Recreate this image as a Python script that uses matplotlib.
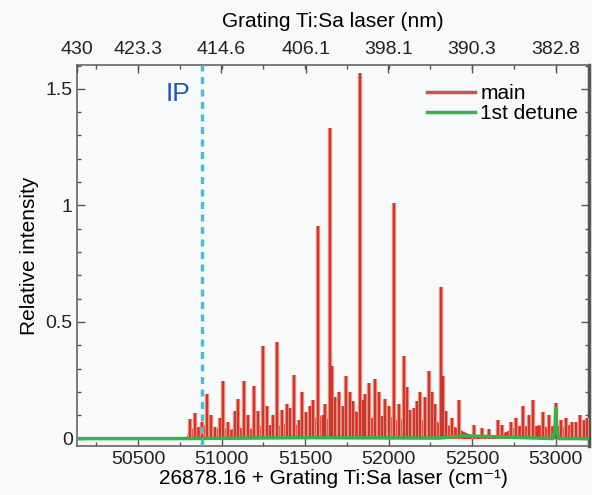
import numpy as np
import matplotlib
matplotlib.use('Agg')
import matplotlib.pyplot as plt
import matplotlib.patheffects as pe
from matplotlib.lines import Line2D
from matplotlib.ticker import MultipleLocator

plt.rcParams['font.family'] = ['Liberation Sans', 'DejaVu Sans']

# peaks of the main spectrum (wavenumber, relative intensity)
peak_x = [50811, 50841, 50880, 50911, 50935, 50961, 50990, 51007, 51040, 51080,
          51100, 51134, 51160, 51194, 51220, 51246, 51270, 51290, 51310, 51334,
          51360, 51390, 51410, 51436, 51466, 51480, 51506, 51530, 51550, 51576,
          51605, 51620, 51648, 51659, 51680, 51705, 51725, 51745, 51770, 51789,
          51826, 51845, 51860, 51885, 51919, 51940, 51959, 51980, 52000, 52032,
          52060, 52093, 52110, 52129, 52149, 52170, 52189, 52215, 52243, 52258,
          52280, 52313, 52328, 52345, 52378, 52422, 52512, 52558, 52600, 52652,
          52680, 52732, 52760, 52804, 52840, 52867, 52923, 52960, 53001, 53035,
          53060, 53097, 53120, 53147, 53170, 53187]
peak_h = [0.084, 0.11, 0.07, 0.19, 0.10, 0.05, 0.09, 0.248, 0.07, 0.12,
          0.17, 0.245, 0.10, 0.224, 0.12, 0.396, 0.14, 0.06, 0.10, 0.413,
          0.124, 0.15, 0.13, 0.271, 0.08, 0.20, 0.112, 0.14, 0.167, 0.91,
          0.10, 0.15, 1.33, 0.31, 0.18, 0.20, 0.14, 0.267, 0.20, 0.16,
          1.57, 0.167, 0.19, 0.238, 0.256, 0.20, 0.095, 0.17, 0.14, 1.01,
          0.15, 0.353, 0.22, 0.124, 0.13, 0.16, 0.198, 0.18, 0.29, 0.20,
          0.15, 0.65, 0.267, 0.12, 0.088, 0.164, 0.059, 0.045, 0.04, 0.078,
          0.06, 0.073, 0.09, 0.138, 0.10, 0.164, 0.116, 0.10, 0.152, 0.08,
          0.09, 0.073, 0.07, 0.10, 0.08, 0.09]

# dense background of the main spectrum
base_x = [50134, 50300, 50500, 50700, 50790, 50800, 50850, 50900, 50950, 51000,
          51050, 51100, 51150, 51200, 51250, 51300, 51350, 51400, 51450, 51500,
          51550, 51600, 51650, 51700, 51750, 51800, 51850, 51900, 51950, 52000,
          52050, 52100, 52150, 52200, 52250, 52300, 52350, 52400, 52450, 52500,
          52550, 52600, 52650, 52700, 52750, 52800, 52850, 52900, 52950, 53000,
          53050, 53100, 53150, 53200]
base_y = [0.004, 0.006, 0.005, 0.006, 0.008, 0.04, 0.05, 0.06, 0.04, 0.05,
          0.04, 0.05, 0.04, 0.05, 0.06, 0.05, 0.06, 0.07, 0.06, 0.07,
          0.09, 0.10, 0.08, 0.11, 0.09, 0.12, 0.10, 0.09, 0.08, 0.10,
          0.08, 0.09, 0.10, 0.08, 0.09, 0.07, 0.06, 0.05, 0.03, 0.015,
          0.012, 0.01, 0.02, 0.03, 0.05, 0.06, 0.05, 0.06, 0.05, 0.06,
          0.05, 0.07, 0.06, 0.05]

# 1st detune
det_x = [50134, 50800, 51500, 52300, 52450, 52985, 52997, 53001, 53006, 53020, 53200]
det_y = [0.0, 0.0, 0.004, 0.002, 0.012, 0.0, 0.05, 0.13, 0.04, 0.0, 0.0]

ip_x = 50883
nm_ticks = ['430', '423.3', '414.6', '406.1', '398.1', '390.3', '382.8']
x_ticks = [50500, 51000, 51500, 52000, 52500, 53000]
y_ticks = [0, 0.5, 1, 1.5]

xmin = 26878.16 + 1e7 / 430
xmax = 53200
fs_tick = 14
fs_lab = 15

fig = plt.figure(figsize=(5.92, 4.95), dpi=100, facecolor='#f8f9fb')
ax = fig.add_axes([0.130, 0.098, 0.865, 0.771])
ax.set_facecolor('#f8f9fb')

ax.fill_between(base_x, 0, base_y, color='#ee2a1f', lw=0, zorder=2)
ax.vlines(peak_x, 0, peak_h, color='#c23a30', lw=1.6, zorder=3,
          path_effects=[pe.Stroke(linewidth=3.2, foreground='#f29384'), pe.Normal()])
ax.plot(det_x, det_y, color='#35b34a', lw=2.5, zorder=4)
ax.axvline(ip_x, color='#3ec3d9', lw=2.5, ls=(0, (2, 1.6)), zorder=5)
ax.text(50737, 1.478, 'IP', color='#2553b0', fontsize=19, ha='center', va='center')

ax.set_xlim(xmin, xmax)
ax.set_ylim(-0.034, 1.603)
ax.set_xticks(x_ticks)
ax.set_yticks(y_ticks)
ax.set_yticklabels(['0', '0.5', '1', '1.5'])
ax.xaxis.set_minor_locator(MultipleLocator(250))
ax.yaxis.set_minor_locator(MultipleLocator(0.1))
ax.tick_params(which='both', direction='in', right=True, labelsize=fs_tick, colors='#222222')
ax.tick_params(which='major', length=6, width=1, color='#555555')
ax.tick_params(which='minor', length=3, width=1, color='#555555')
ax.tick_params(axis='x', pad=3)
ax.tick_params(axis='y', pad=3)
for s in ax.spines.values():
    s.set_color('#666666')
    s.set_linewidth(1.2)
ax.spines['right'].set_linewidth(2.5)
ax.spines['right'].set_color('#555555')

ax.set_xlabel('26878.16 + Grating Ti:Sa laser (cm\u207b\u00b9)', fontsize=fs_lab, labelpad=1)
ax.set_ylabel('Relative intensity', fontsize=fs_lab, labelpad=5)

ax2 = ax.twiny()
ax2.set_xlim(xmin, xmax)
ax2.set_xticks([26878.16 + 1e7 / float(w) for w in nm_ticks])
ax2.set_xticklabels(nm_ticks)
ax2.xaxis.set_minor_locator(MultipleLocator(250))
ax2.tick_params(which='both', direction='in', labelsize=fs_tick, colors='#222222', pad=5)
ax2.tick_params(which='major', length=6, width=1, color='#555555')
ax2.tick_params(which='minor', length=3, width=1, color='#555555')
ax2.set_xlabel('Grating Ti:Sa laser (nm)', fontsize=fs_lab, labelpad=10)
for s in ax2.spines.values():
    s.set_visible(False)

handles = [Line2D([], [], color='#c8574a', lw=2.5), Line2D([], [], color='#35b34a', lw=2.5)]
ax.legend(handles, ['main', '1st detune'], loc='upper right', frameon=False,
          fontsize=fs_lab, handlelength=2.3, handletextpad=0.25, labelspacing=0.05,
          borderpad=0, borderaxespad=0, bbox_to_anchor=(0.979, 0.95))

fig.savefig('out.png', dpi=100, facecolor=fig.get_facecolor())
